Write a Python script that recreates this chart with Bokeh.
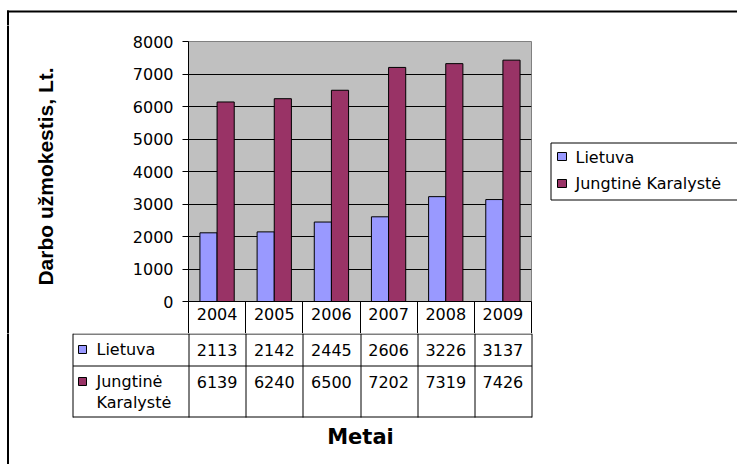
import math
from bokeh.plotting import figure
from bokeh.layouts import column, row
from bokeh.models import (Range1d, FixedTicker, LinearAxis, ColumnDataSource)
from bokeh.core.properties import value
from bokeh.transform import dodge
from bokeh.embed import file_html
from bokeh.resources import INLINE

# ---- data ----
years = ["2004", "2005", "2006", "2007", "2008", "2009"]
lietuva = [2113, 2142, 2445, 2606, 3226, 3137]
jungtine = [6139, 6240, 6500, 7202, 7319, 7426]
series_names = ["Lietuva", "Jungtinė Karalystė"]
y_ticks = [0, 1000, 2000, 3000, 4000, 5000, 6000, 7000, 8000]
y_title = "Darbo užmokestis, Lt."
x_title = "Metai"

# ---- layout (page pixels) ----
W, H = 737, 464
PL, PR, PT, PB = 188, 531, 41, 301      # plot area
TOP_H = 25                               # top strip height
MID_B = 333                              # bottom of middle row
LW, MW = 120, 413                        # left strip / main widths
RW = W - LW - MW
FONT = "DejaVu Sans"
FS = "16px"
C1, C2 = "#9999FF", "#993366"
GRAY = "#C0C0C0"


def blank(w, h, x0, x1, ytop, ybot):
    f = figure(width=w, height=h, x_range=Range1d(x0, x1), y_range=Range1d(ybot, ytop),
               output_backend="svg", toolbar_location=None,
               x_axis_location=None, y_axis_location=None, frame_align=False,
               min_border=0, min_border_left=0, min_border_right=0,
               min_border_top=0, min_border_bottom=0)
    f.outline_line_color = None
    f.background_fill_color = "white"
    f.border_fill_color = "white"
    f.grid.visible = False
    return f


txt = dict(text_font=value(FONT), text_font_size=value(FS), text_color="black",
           text_baseline="middle")

# ---- top strip: outer chart border ----
top = blank(W, TOP_H, 0, W, 0, TOP_H)
top.segment(x0=[6.5, 7.5], y0=[11, 10], x1=[W + 5, 7.5], y1=[11, TOP_H + 2],
            line_color="black", line_width=2)

# ---- left strip: border + y title ----
left = blank(LW, MID_B - TOP_H, 0, LW, TOP_H, MID_B)
left.segment(x0=[7.5], y0=[TOP_H - 2], x1=[7.5], y1=[MID_B + 2], line_color="black", line_width=2)
left.text(x=[45], y=[176], text=[y_title], angle=math.pi / 2,
          text_font=value("Liberation Sans"), text_font_style="bold",
          text_font_size=value("21px"), text_color="black",
          text_align="center", text_baseline="middle")

# ---- main plot (x in category-slot units: slot i spans [i, i+1]) ----
n = len(years)
slot = [i + 0.5 for i in range(n)]
p = figure(width=MW, height=MID_B - TOP_H, x_range=Range1d(0, n),
           y_range=Range1d(0, 8000), output_backend="svg", toolbar_location=None,
           x_axis_location=None, frame_align=False,
           min_border_left=PL - LW, min_border_right=LW + MW - PR,
           min_border_top=PT - TOP_H, min_border_bottom=MID_B - PB)
p.background_fill_color = GRAY
p.border_fill_color = "white"
p.outline_line_color = "#808080"

src = ColumnDataSource(dict(slot=slot, year=years, lietuva=lietuva, jungtine=jungtine))
r1 = p.vbar(x=dodge("slot", -0.15), top="lietuva", width=0.3,
            source=src, fill_color=C1, line_color="black", line_width=1)
r2 = p.vbar(x=dodge("slot", 0.15), top="jungtine", width=0.3,
            source=src, fill_color=C2, line_color="black", line_width=1)

p.yaxis.ticker = FixedTicker(ticks=y_ticks)
p.yaxis.major_tick_out = 6
p.yaxis.major_tick_in = 0
p.yaxis.minor_tick_out = 0
p.yaxis.minor_tick_in = 0
p.yaxis.axis_line_color = "black"
p.yaxis.major_tick_line_color = "black"
p.yaxis.major_label_text_font = FONT
p.yaxis.major_label_text_font_size = FS
p.yaxis.major_label_text_color = "black"
p.yaxis.major_label_standoff = 9

p.xgrid.visible = False
p.ygrid.ticker = FixedTicker(ticks=y_ticks[1:-1])
p.ygrid.grid_line_color = "black"

# category axis: year labels at slot centres, column borders as minor ticks
xax = LinearAxis(ticker=FixedTicker(ticks=slot, minor_ticks=list(range(n + 1))),
                 major_label_overrides={c: y for c, y in zip(slot, years)})
xax.major_tick_out = 0
xax.major_tick_in = 0
xax.minor_tick_out = MID_B - PB
xax.minor_tick_in = 0
xax.minor_tick_line_color = "black"
xax.axis_line_color = "black"
xax.major_label_text_font = FONT
xax.major_label_text_font_size = FS
xax.major_label_text_color = "black"
xax.major_label_standoff = 6 - (MID_B - PB)
p.add_layout(xax, "below")

# ---- right strip: legend ----
right = blank(RW, MID_B - TOP_H, LW + MW, W, TOP_H, MID_B)
right.quad(left=[550.5], right=[W + 5], top=[142.5], bottom=[199.5],
           fill_color="white", line_color="black", line_width=1)
right.quad(left=[557, 557], right=[566, 566], top=[152, 179], bottom=[160, 187],
           fill_color=[C1, C2], line_color="black", line_width=1)
right.text(x=[575, 575], y=[157, 183], text=series_names, text_align="left", **txt)

# ---- bottom strip: data table + x title ----
cw = (PR - PL) / n
bot = blank(W, H - MID_B, 0, W, MID_B, H)
bot.segment(x0=[7.5], y0=[MID_B - 2], x1=[7.5], y1=[H + 1], line_color="black", line_width=2)
TL = 72.5
row_lines = [333.5, 365.5, 416.5]
bot.segment(x0=[TL] * 3, y0=row_lines, x1=[PR + 0.5] * 3, y1=row_lines,
            line_color="black", line_width=1)
vx = [TL] + [round(PL + i * cw) + 0.5 for i in range(n + 1)]
bot.segment(x0=vx, y0=[333] * len(vx), x1=vx, y1=[417] * len(vx),
            line_color="black", line_width=1)
bot.quad(left=[78, 78], right=[86, 86], top=[345, 377], bottom=[353, 385],
         fill_color=[C1, C2], line_color="black", line_width=1)
jw = series_names[1].split(" ")
bot.text(x=[96, 96, 96], y=[349, 381, 402], text=[series_names[0], jw[0], jw[1]],
         text_align="left", **txt)
cx = [PL + s * cw for s in slot]
bot.text(x=cx, y=[349] * n, text=[str(v) for v in lietuva], text_align="center", **txt)
bot.text(x=cx, y=[381] * n, text=[str(v) for v in jungtine], text_align="center", **txt)
bot.text(x=[360], y=[436], text=[x_title], text_font=value("DejaVu Sans"),
         text_font_style="bold", text_font_size=value("21px"), text_color="black",
         text_align="center", text_baseline="middle")

layout = column(top, row(left, p, right), bot)
open("out.html", "w").write(file_html(layout, INLINE))
